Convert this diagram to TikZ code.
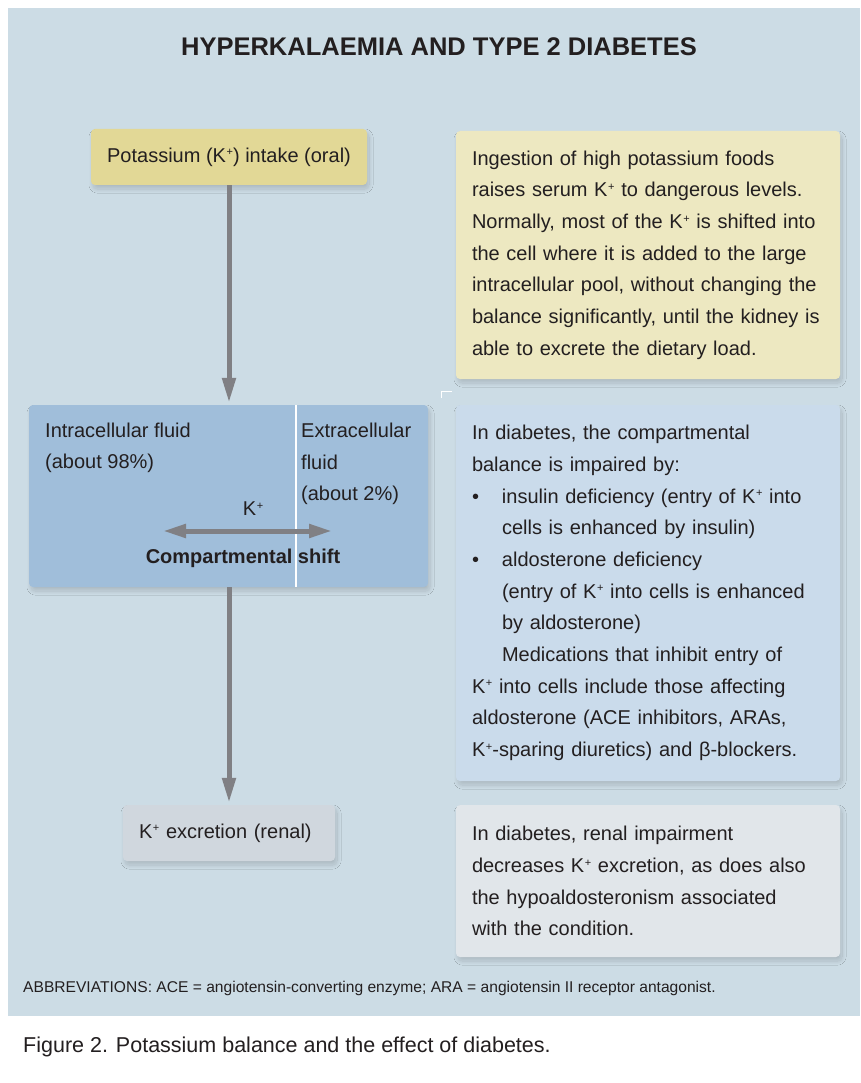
\documentclass[tikz,border=0pt]{standalone}
\usepackage{fontspec}
\setmainfont{Liberation Sans}
\usetikzlibrary{arrows.meta,shadows.blur}
\setlength{\parindent}{0pt}
\definecolor{bgblue}{RGB}{204,220,229}
\definecolor{intakeyellow}{RGB}{226,216,150}
\definecolor{noteyellow}{RGB}{237,232,193}
\definecolor{midblue}{RGB}{160,190,218}
\definecolor{noteblue}{RGB}{202,219,235}
\definecolor{exgrey}{RGB}{208,215,222}
\definecolor{notegrey}{RGB}{225,230,234}
\definecolor{arrowgrey}{RGB}{128,128,132}
\definecolor{textc}{RGB}{35,31,32}
\newcommand\Kp{K\kern0.6pt\raisebox{6.3pt}{\fontsize{11}{11}\selectfont +}}
\tikzset{
  boxbase/.style={rectangle, rounded corners=4pt, draw=none, inner sep=0pt,
    text=textc, font=\fontsize{20}{31.7}\selectfont,
    blur shadow={shadow xshift=2pt, shadow yshift=-4pt, shadow blur radius=4pt, shadow blur steps=20, shadow opacity=16}},
  notebox/.style={boxbase, minimum width=384pt, text width=352pt, align=left},
  flowarrow/.style={draw=arrowgrey, line width=5pt, -{Triangle[length=25pt,width=13pt]}},
  shiftarrow/.style={draw=arrowgrey, line width=5pt, {Triangle[length=23pt,width=13pt]}-{Triangle[length=23pt,width=13pt]}},
  plaintext/.style={text=textc, inner sep=0pt, font=\fontsize{20}{31.2}\selectfont}
}
\begin{document}
\begin{tikzpicture}[x=1pt,y=-1pt]
\useasboundingbox (0,0) rectangle (860,1083);
\fill[white] (0,0) rectangle (860,1083);
\fill[bgblue] (8,8) rectangle (860,1016);

% title
\node[text=textc, inner sep=0pt, font=\fontsize{25.5}{30}\selectfont\bfseries] (title) at (439,47) {HYPERKALAEMIA AND TYPE 2 DIABETES};

% left column
\node[boxbase, fill=intakeyellow, minimum width=276pt, minimum height=56pt, align=center] (intake) at (229,157) {Potassium (\Kp) intake (oral)};

\node[boxbase, fill=midblue, minimum width=399pt, minimum height=182pt] (comp) at (228.5,496) {};
\coordinate (divtop) at (296,405);
\coordinate (divbot) at (296,587);
\draw[white, line width=1.6pt] (divtop) -- (divbot);
\node[plaintext, anchor=west, align=left] (icf) at (45,447.5) {Intracellular fluid\\(about 98\%)};
\node[plaintext, anchor=west, align=left] (ecf) at (301,464) {Extracellular\\fluid\\(about 2\%)};
\node[plaintext] (kplus) at (253,509) {\Kp};
\coordinate (shl) at (163,531);
\coordinate (shr) at (332,531);
\draw[shiftarrow] (shl) -- (shr);
\node[plaintext, font=\fontsize{20}{24}\selectfont\bfseries] (shift) at (243,558) {Compartmental shift};

\node[boxbase, fill=exgrey, minimum width=212pt, minimum height=56pt, text width=180pt, align=left] (excr) at (229,833) {\Kp{} excretion (renal)};

\draw[flowarrow, shorten >=2pt] (intake.south) -- (intake.south |- comp.north);
\draw[flowarrow, shorten >=2pt] (excr.north |- comp.south) -- (excr.north);

% right column
\node[notebox, fill=noteyellow, minimum height=248pt] (note1) at (648,255) {Ingestion of high potassium foods\\
raises serum \Kp{} to dangerous levels.\\
Normally, most of the \Kp{} is shifted into\\
the cell where it is added to the large\\
intracellular pool, without changing the\\
balance significantly, until the kidney is\\
able to excrete the dietary load.};

\node[notebox, fill=noteblue, minimum height=376pt] (note2) at (648,593) {In diabetes, the compartmental\\
balance is impaired by:\\
\makebox[30pt][l]{\textbullet}insulin deficiency (entry of \Kp{} into\\
\hspace*{30pt}cells is enhanced by insulin)\\
\makebox[30pt][l]{\textbullet}aldosterone deficiency\\
\hspace*{30pt}(entry of \Kp{} into cells is enhanced\\
\hspace*{30pt}by aldosterone)\\
\hspace*{30pt}Medications that inhibit entry of\\
\Kp{} into cells include those affecting\\
aldosterone (ACE inhibitors, ARAs,\\
\Kp-sparing diuretics) and β-blockers.};

\node[notebox, fill=notegrey, minimum height=152pt] (note3) at (648,881) {In diabetes, renal impairment\\
decreases \Kp{} excretion, as does also\\
the hypoaldosteronism associated\\
with the condition.};

% small corner mark
\coordinate (cm1) at (441.5,398);
\coordinate (cm2) at (441.5,391.5);
\coordinate (cm3) at (452,391.5);
\draw[white, line width=0.8pt] (cm1) -- (cm2) -- (cm3);

% footer
\node[text=textc, inner sep=0pt, anchor=west, font=\fontsize{15.6}{18}\selectfont] (abbr) at (23,988) {ABBREVIATIONS: ACE = angiotensin-converting enzyme; ARA = angiotensin II receptor antagonist.};
\node[text=textc, inner sep=0pt, anchor=west, font=\fontsize{21.5}{26}\selectfont] (caption) at (23,1047) {Figure 2. Potassium balance and the effect of diabetes.};
\end{tikzpicture}
\end{document}
